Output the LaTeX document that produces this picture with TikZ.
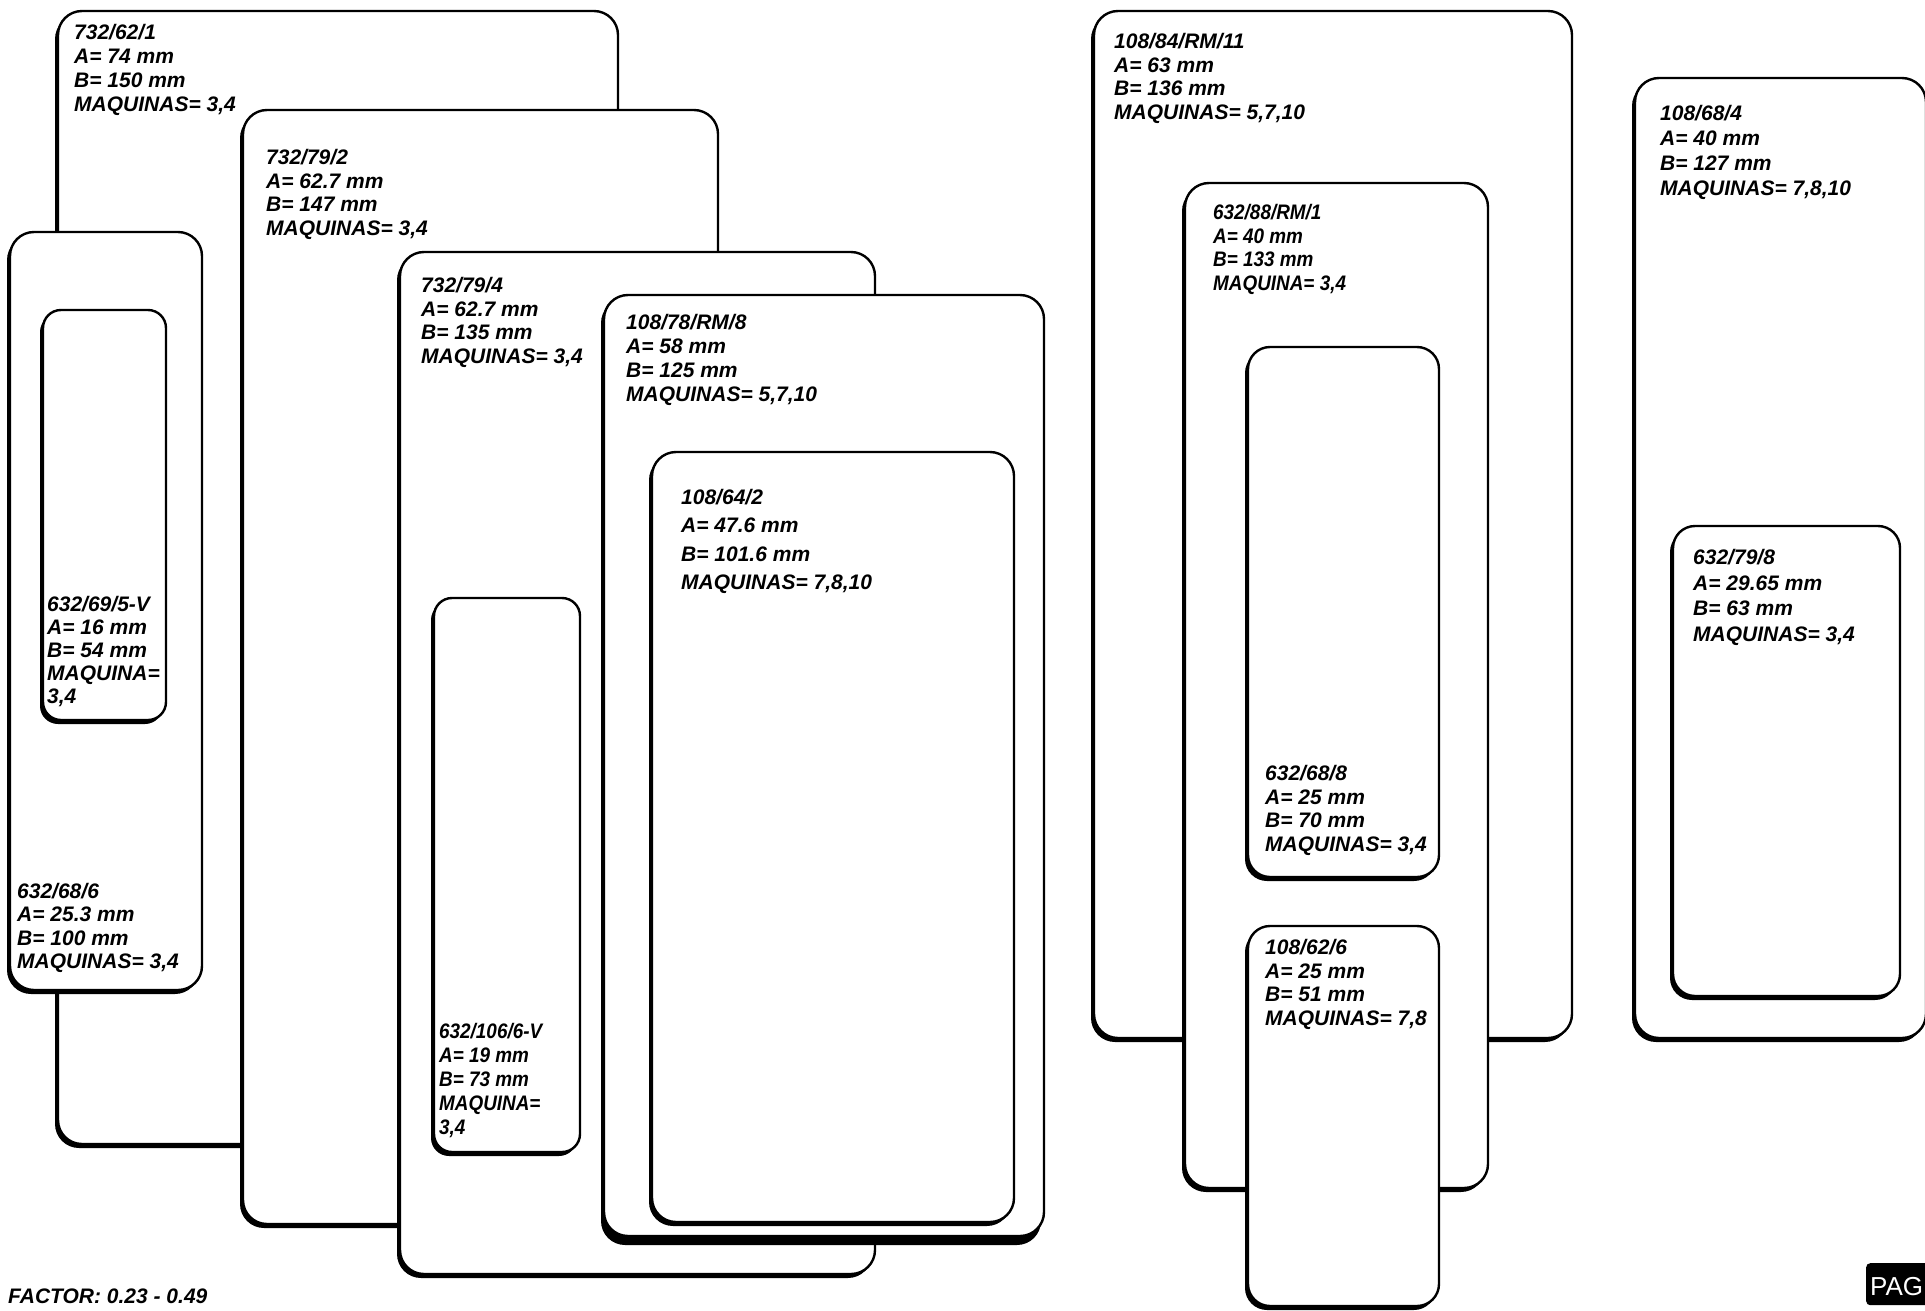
\documentclass[tikz,border=0pt]{standalone}
\usepackage{fontspec}
\setmainfont{Liberation Sans}
\newfontfamily\narrowfont{Liberation Sans}[FakeStretch=0.9]
\usetikzlibrary{shadows}
\tikzset{
  card/.style={draw=black, fill=white, line width=2.4pt, rounded corners=24pt,
    anchor=north west, inner sep=0pt, outer sep=0pt,
    drop shadow={shadow xshift=-3pt, shadow yshift=-4pt, opacity=1, fill=black}},
  smallcard/.style={rounded corners=18pt},
  midcard/.style={rounded corners=22pt},
  lbl/.style={anchor=base west, inner sep=0pt, font=\fontsize{21}{24}\selectfont\bfseries\itshape},
  narrow/.style={font=\fontsize{21}{24}\selectfont\narrowfont\bfseries\itshape},
  pagbox/.style={fill=black, rounded corners=4pt, anchor=north west, inner sep=0pt,
    minimum width=80pt, minimum height=42pt},
  pagtext/.style={anchor=base west, inner sep=0pt, text=white, font=\fontsize{26}{30}\selectfont},
}
% #1 options, #2 name, #3 x, #4 first baseline y, #5 line spacing, #6 lines
\newcommand\cardtext[6][]{%
  \foreach \t [count=\i from 0] in {#6} {\node[lbl,#1] (#2-\i) at ({#3},{#4+\i*#5}) {\t};}}
\begin{document}
\begin{tikzpicture}[x=1pt,y=-1pt]
\fill[white] (0,0) rectangle (1925,1311);
\useasboundingbox (0,0) rectangle (1925,1311);

% left group
\node[card, minimum width=560pt, minimum height=1133pt] (A) at (58,11) {};
\node[card, minimum width=192pt, minimum height=758pt] (C) at (10,232) {};
\node[card, smallcard, minimum width=123pt, minimum height=410pt] (D) at (43,310) {};
\node[card, minimum width=475pt, minimum height=1114pt] (B) at (243,110) {};
\node[card, minimum width=475pt, minimum height=1022pt] (E) at (400,252) {};
\node[card, smallcard, minimum width=146pt, minimum height=554pt] (G) at (434,598) {};
\node[card, minimum width=440pt, minimum height=941pt,
  drop shadow={shadow xshift=-3pt, shadow yshift=-9pt, opacity=1, fill=black}] (F) at (604,295) {};
\node[card, minimum width=362pt, minimum height=770pt] (H) at (652,452) {};

\cardtext{tA}{74}{39.5}{24}{{732/62/1},{A= 74 mm},{B= 150 mm},{MAQUINAS= 3,4}}
\cardtext{tB}{266}{164.5}{23.7}{{732/79/2},{A= 62.7 mm},{B= 147 mm},{MAQUINAS= 3,4}}
\cardtext{tC}{17}{898.5}{23.3}{{632/68/6},{A= 25.3 mm},{B= 100 mm},{MAQUINAS= 3,4}}
\cardtext{tD}{47}{611.5}{23}{{632/69/5-V},{A= 16 mm},{B= 54 mm},{MAQUINA=},{3,4}}
\cardtext{tE}{421}{292.5}{23.7}{{732/79/4},{A= 62.7 mm},{B= 135 mm},{MAQUINAS= 3,4}}
\cardtext{tF}{626}{329.5}{24}{{108/78/RM/8},{A= 58 mm},{B= 125 mm},{MAQUINAS= 5,7,10}}
\cardtext[narrow]{tG}{439}{1038.5}{24}{{632/106/6-V},{A= 19 mm},{B= 73 mm},{MAQUINA=},{3,4}}
\cardtext{tH}{681}{504.5}{28.3}{{108/64/2},{A= 47.6 mm},{B= 101.6 mm},{MAQUINAS= 7,8,10}}

% right group
\node[card, minimum width=478pt, minimum height=1027pt] (I) at (1094,11) {};
\node[card, minimum width=303pt, minimum height=1005pt] (J) at (1185,183) {};
\node[card, midcard, minimum width=191pt, minimum height=530pt] (K) at (1248,347) {};
\node[card, midcard, minimum width=191pt, minimum height=380pt] (L) at (1248,926) {};
\node[card, minimum width=291pt, minimum height=960pt] (M) at (1635,78) {};
\node[card, midcard, minimum width=227pt, minimum height=470pt] (N) at (1673,526) {};

\cardtext{tI}{1114}{48.5}{23.7}{{108/84/RM/11},{A= 63 mm},{B= 136 mm},{MAQUINAS= 5,7,10}}
\cardtext[narrow]{tJ}{1213}{219.5}{23.7}{{632/88/RM/1},{A= 40 mm},{B= 133 mm},{MAQUINA= 3,4}}
\cardtext{tK}{1265}{780.5}{23.5}{{632/68/8},{A= 25 mm},{B= 70 mm},{MAQUINAS= 3,4}}
\cardtext{tL}{1265}{954.5}{23.7}{{108/62/6},{A= 25 mm},{B= 51 mm},{MAQUINAS= 7,8}}
\cardtext{tM}{1660}{120.5}{25}{{108/68/4},{A= 40 mm},{B= 127 mm},{MAQUINAS= 7,8,10}}
\cardtext{tN}{1693}{564.5}{25.7}{{632/79/8},{A= 29.65 mm},{B= 63 mm},{MAQUINAS= 3,4}}

% footer
\node[lbl] (factor) at (8,1303.5) {FACTOR: 0.23 - 0.49};
\node[pagbox] (pag) at (1866,1263) {};
\node[pagtext] (pagt) at (1870,1295) {PAG};
\end{tikzpicture}
\end{document}
